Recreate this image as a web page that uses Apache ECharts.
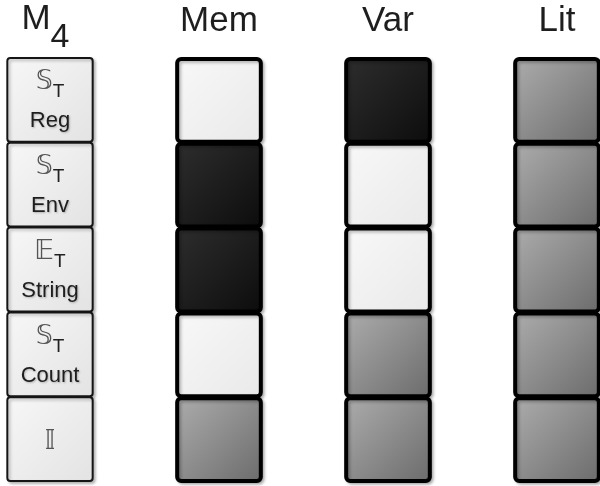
<!DOCTYPE html>
<html>
<head>
<meta charset="utf-8">
<script src="https://cdn.jsdelivr.net/npm/echarts@6/dist/echarts.min.js"></script>
<style>html,body{margin:0;padding:0;background:#fff}#c{width:600px;height:486px}</style>
</head>
<body>
<div id="c"></div>
<script>
// Column headers (first column is the row-label column "M4")
var headers = ['M4', 'Mem', 'Var', 'Lit'];
// Row labels: symbol, subscript, name
var rowSymbols = ['\u{1D54A}', '\u{1D54A}', '\u{1D53C}', '\u{1D54A}', '\u{1D540}'];
var rowSubs = ['T', 'T', 'T', 'T', ''];
var rowNames = ['Reg', 'Env', 'String', 'Count', ''];
// Cell states: 'light', 'dark', 'gray'
var mem = ['light', 'dark', 'dark', 'light', 'gray'];
var vr  = ['dark', 'light', 'light', 'gray', 'gray'];
var lit = ['gray', 'gray', 'gray', 'gray', 'gray'];

var columns = [mem, vr, lit];
var data = [];
for (var r = 0; r < rowNames.length; r++) {
  data.push([0, r, 'label']);
  for (var c = 0; c < columns.length; c++) data.push([c + 1, r, columns[c][r]]);
}

var fills = {
  light: ['#f8f8f8', '#e9e9e9'],
  gray: ['#adadad', '#6b6b6b'],
  dark: ['#2e2e2e', '#0c0c0c'],
  label: ['#f7f7f7', '#e3e3e3']
};
function grad(k) {
  return new echarts.graphic.LinearGradient(0, 0, 1, 1, [
    {offset: 0, color: fills[k][0]}, {offset: 1, color: fills[k][1]}
  ]);
}

var hdr = {fontSize: 35, fontFamily: 'Liberation Sans', color: '#1e1e1e', lineHeight: 42, verticalAlign: 'bottom'};
var chart = echarts.init(document.getElementById('c'), null, {renderer: 'canvas'});
chart.setOption({
  animation: false,
  grid: {left: 50, right: 43, top: 57, bottom: 5, containLabel: false, outerBoundsMode: 'none'},
  xAxis: {
    type: 'value', position: 'top', min: 0, max: 3, interval: 1,
    axisLine: {show: false}, axisTick: {show: false}, splitLine: {show: false},
    axisLabel: {
      margin: 2,
      fontFamily: 'Liberation Sans, Arial, sans-serif',
      fontSize: 35, color: '#1e1e1e',
      formatter: function (v) {
        var h = headers[v];
        if (h === 'M4') return '{m|M}{s|4}';
        return '{h|' + h + '}';
      },
      rich: {
        h: Object.assign({}, hdr, {padding: [0, 0, 16, 0]}),
        m: Object.assign({}, hdr, {padding: [0, 0, 18, 0]}),
        s: Object.assign({}, hdr, {fontSize: 34, padding: [0, 9, 0, 0]})
      }
    }
  },
  yAxis: {
    type: 'category', inverse: true, data: rowNames,
    axisLine: {show: false}, axisTick: {show: false}, axisLabel: {show: false}, splitLine: {show: false}
  },
  series: [{
    type: 'custom',
    data: data,
    clip: false,
    renderItem: function (params, api) {
      var col = api.value(0), row = api.value(1);
      var state = data[params.dataIndex][2];
      var p = api.coord([col, row]);
      var sz = api.size([1, 1]);
      var isLabel = state === 'label';
      var w = sz[0] * (isLabel ? 0.505 : 0.495);
      var h = sz[1];
      var lw = isLabel ? 2 : 4;
      var children = [{
        type: 'rect',
        shape: {x: p[0] - w / 2, y: p[1] - h / 2 + lw / 2, width: w, height: h - lw / 2, r: isLabel ? 3 : 4},
        style: {
          fill: grad(state), stroke: isLabel ? '#151515' : '#000', lineWidth: lw,
          shadowColor: 'rgba(0,0,0,0.25)', shadowBlur: 3, shadowOffsetX: 2, shadowOffsetY: 2
        }
      }];
      if (isLabel) {
        var sym = rowSymbols[row], sub = rowSubs[row], nm = rowNames[row];
        var txt = nm ? '{a|' + sym + '}{b|' + sub + '}\n{c|' + nm + '}' : '{a|' + sym + '}';
        children.push({
          type: 'text',
          x: p[0], y: p[1] + (nm ? 3 : 3),
          style: {
            text: txt, align: 'center', verticalAlign: 'middle',
            rich: {
              a: {fontSize: 27, fontFamily: 'DejaVu Sans', fill: '#555', lineHeight: 38},
              b: {fontSize: 19, fontFamily: 'Liberation Sans', fill: '#222', lineHeight: 38, padding: [14, 0, 0, 0], verticalAlign: 'bottom'},
              c: {fontSize: 22, fontFamily: 'Liberation Sans', fill: '#1e1e1e', lineHeight: 40,
                  textShadowColor: 'rgba(0,0,0,0.25)', textShadowBlur: 2, textShadowOffsetX: 1, textShadowOffsetY: 1}
            }
          }
        });
      }
      return {type: 'group', children: children};
    }
  }]
});
</script>
</body>
</html>
